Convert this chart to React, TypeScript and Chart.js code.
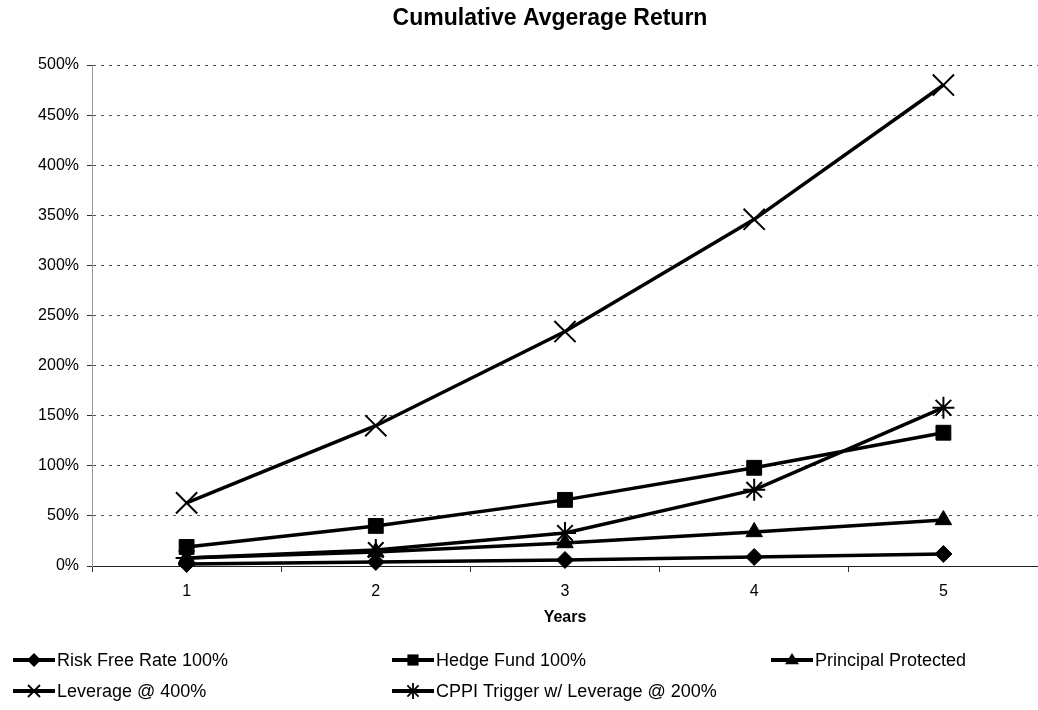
import { useEffect, useRef } from "react";
import { Chart, registerables } from "chart.js";

Chart.register(...registerables);

// Years on the horizontal axis
const years = ["1", "2", "3", "4", "5"];

// Cumulative average return per strategy, in percent
const riskFree = [2, 4, 6, 9, 12];
const hedgeFund = [19, 40, 66, 98, 133];
const principalProtected = [8, 14, 23, 34, 46];
const leverage400 = [63, 140, 234, 346, 480];
const cppiTrigger = [8, 16, 33, 76, 158];

const seriesNames = [
  "Risk Free Rate 100%",
  "Hedge Fund 100%",
  "Principal Protected",
  "Leverage @ 400%",
  "CPPI Trigger w/ Leverage @ 200%",
];

const yTicks = { min: 0, max: 500, step: 50 };

const FONT = "'Liberation Sans', Arial, sans-serif";

type Style = "rectRot" | "rect" | "triangle" | "crossRot" | "star";

function drawMarker(ctx: CanvasRenderingContext2D, style: Style, x: number, y: number, r: number) {
  ctx.save();
  ctx.fillStyle = "#000";
  ctx.strokeStyle = "#000";
  ctx.lineWidth = 1.8;
  ctx.beginPath();
  if (style === "rectRot") {
    ctx.moveTo(x, y - r);
    ctx.lineTo(x + r, y);
    ctx.lineTo(x, y + r);
    ctx.lineTo(x - r, y);
    ctx.closePath();
    ctx.fill();
  } else if (style === "rect") {
    const s = r * 0.8;
    ctx.rect(x - s, y - s, 2 * s, 2 * s);
    ctx.fill();
  } else if (style === "triangle") {
    ctx.moveTo(x, y - r);
    ctx.lineTo(x + r, y + r * 0.6);
    ctx.lineTo(x - r, y + r * 0.6);
    ctx.closePath();
    ctx.fill();
  } else if (style === "crossRot") {
    const d = r * 0.75;
    ctx.moveTo(x - d, y - d);
    ctx.lineTo(x + d, y + d);
    ctx.moveTo(x + d, y - d);
    ctx.lineTo(x - d, y + d);
    ctx.stroke();
  } else {
    const d = r * 0.7;
    ctx.moveTo(x - d, y - d);
    ctx.lineTo(x + d, y + d);
    ctx.moveTo(x + d, y - d);
    ctx.lineTo(x - d, y + d);
    ctx.moveTo(x, y - r);
    ctx.lineTo(x, y + r);
    ctx.stroke();
  }
  ctx.restore();
}

const styles: Style[] = ["rectRot", "rect", "triangle", "crossRot", "star"];
const radii = [8.5, 10.5, 9.5, 15, 11];

// Title, axis title and the two-row legend are painted on the canvas
const decorations = {
  id: "decorations",
  afterDraw(chart: Chart) {
    const ctx = chart.ctx;
    const area = chart.chartArea;
    ctx.save();
    ctx.fillStyle = "#000";
    ctx.textAlign = "center";
    ctx.textBaseline = "middle";
    ctx.font = `bold 23px ${FONT}`;
    ctx.fillText("Cumulative Avgerage Return", 550, 19);

    ctx.font = `bold 16px ${FONT}`;
    ctx.fillText("Years", (area.left + area.right) / 2, 618);

    const cols = [13, 392, 771];
    const rows = [660, 691];
    ctx.font = `18px ${FONT}`;
    ctx.textAlign = "left";
    seriesNames.forEach((name, i) => {
      const x = cols[i % 3];
      const y = rows[Math.floor(i / 3)];
      ctx.strokeStyle = "#000";
      ctx.lineWidth = 4;
      ctx.beginPath();
      ctx.moveTo(x, y);
      ctx.lineTo(x + 42, y);
      ctx.stroke();
      drawMarker(ctx, styles[i], x + 21, y, styles[i] === "crossRot" || styles[i] === "star" ? 8 : 7);
      ctx.fillStyle = "#000";
      ctx.fillText(name, x + 44, y + 1);
    });
    ctx.restore();
  },
};

export default function App() {
  const canvasRef = useRef<HTMLCanvasElement | null>(null);

  useEffect(() => {
    const canvas = canvasRef.current;
    if (!canvas) return;
    const values = [riskFree, hedgeFund, principalProtected, leverage400, cppiTrigger];
    const chart = new Chart(canvas, {
      type: "line",
      data: {
        labels: years,
        datasets: values.map((data, i) => ({
          label: seriesNames[i],
          data,
          borderColor: "#000",
          backgroundColor: "#000",
          borderWidth: 3.5,
          pointStyle: styles[i],
          pointRadius: radii[i],
          pointHoverRadius: radii[i],
          pointBackgroundColor: "#000",
          pointBorderColor: "#000",
          pointBorderWidth: styles[i] === "crossRot" || styles[i] === "star" ? 2 : 1,
          tension: 0,
          fill: false,
          clip: false,
        })),
      },
      options: {
        responsive: false,
        animation: false,
        devicePixelRatio: 1,
        layout: { autoPadding: false, padding: { top: 65, right: 0, bottom: 110, left: 0 } },
        plugins: {
          legend: { display: false },
          title: { display: false },
          tooltip: { enabled: false },
        },
        scales: {
          x: {
            type: "category",
            offset: true,
            grid: {
              display: true,
              offset: true,
              drawOnChartArea: false,
              drawTicks: true,
              tickLength: 6,
              color: "#333",
            },
            border: { display: true, color: "#222", width: 1 },
            ticks: { color: "#000", font: { family: FONT, size: 16 }, padding: 10 },
            afterFit: (s: any) => {
              s.height = 34;
              s.paddingLeft = 0;
              s.paddingRight = 0;
            },
          },
          y: {
            min: yTicks.min,
            max: yTicks.max,
            ticks: {
              stepSize: yTicks.step,
              color: "#000",
              font: { family: FONT, size: 16 },
              padding: 8,
              callback: (v: any) => `${v}%`,
            },
            grid: {
              color: "#555",
              lineWidth: 1,
              tickLength: 5,
              tickColor: "#333",
              tickBorderDash: [],
            },
            border: { display: true, color: "#999", width: 1, dash: [3, 5] },
            afterFit: (s: any) => {
              s.width = 92;
              s.paddingTop = 0;
              s.paddingBottom = 0;
            },
          },
        },
      },
      plugins: [decorations],
    });
    return () => chart.destroy();
  }, []);

  return (
    <div style={{ position: "absolute", left: 0, top: 0, width: 1038, height: 710, background: "#fff" }}>
      <canvas ref={canvasRef} width={1038} height={710} />
    </div>
  );
}
